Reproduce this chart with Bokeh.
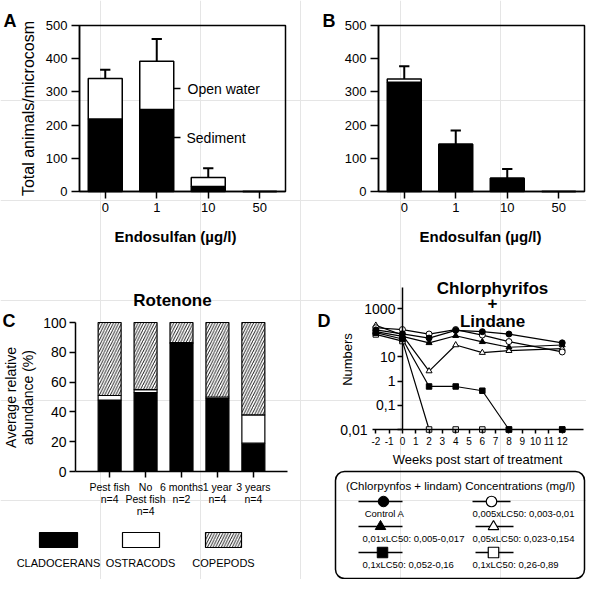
import math
from bokeh.plotting import figure
from bokeh.models import (Range1d, FixedTicker, Label, BoxAnnotation, LinearAxis,
                          LogAxis, LogScale)
from bokeh.embed import file_html
from bokeh.resources import INLINE

FONT = "Liberation Sans"

# ---------------- data ----------------
conc_labels = ["0", "1", "10", "50"]
A_sediment = [218, 247, 15, 0]
A_open_water = [122, 145, 27, 0]
A_sd = [27, 67, 28, 0]
B_sediment = [329, 142, 40, 0]
B_open_water = [10, 0, 0, 0]
B_sd = [38, 42, 28, 0]
AB_y_ticks = [0, 100, 200, 300, 400, 500]

C_groups = ["Pest fish\nn=4", "No\nPest fish\nn=4", "6 months\nn=2", "1 year\nn=4", "3 years\nn=4"]
C_cladocerans = [48, 53, 86, 49, 19]
C_ostracods = [3, 2, 0.5, 1, 19]
C_copepods = [49, 45, 13.5, 50, 62]
C_y_ticks = [0, 20, 40, 60, 80, 100]

D_weeks = [-2, 0, 2, 4, 6, 8, 12]
D_control_A = [130, 90, 60, 125, 110, 88, 38]
D_0005_lc50 = [160, 135, 88, 135, 80, 43, 16]
D_001_lc50 = [110, 70, 38, 75, 42, 25, 31]
D_005_lc50 = [200, 80, 2.6, 31, 15, 18, 22]
D_01_lc50_a = [100, 55, 0.6, 0.6, 0.4, 0.01, 0.01]
D_01_lc50_b = [85, 45, 0.01, 0.01, 0.01, 0.01, 0.01]
D_week_ticks = [-2, -1, 0, 1, 2, 3, 4, 5, 6, 7, 8, 9, 10, 11, 12]
D_week_labels = ["-2", "-1", "0", "1", "2", "3", "4", "5", "6", "7", "8", "9", "10", "11", "12"]
D_y_ticks = [0.01, 0.1, 1, 10, 1000]
D_y_tick_labels = ["0,01", "0,1", "1", "10", "1000"]

# ---------------- canvas ----------------
W, H = 586, 579
p = figure(width=W, height=H, x_range=Range1d(0, W), y_range=Range1d(H, 0),
           x_axis_location=None, y_axis_location=None, toolbar_location=None,
           output_backend="svg", min_border_left=0, min_border_right=0,
           min_border_top=0, min_border_bottom=0)
p.outline_line_color = None


def xr(v0, c0, v1, c1):
    k = (v1 - v0) / (c1 - c0)
    return Range1d(start=v0 - c0 * k, end=v0 + (W - c0) * k)


def yr(v0, c0, v1, c1, log=False):
    if log:
        v0, v1 = math.log10(v0), math.log10(v1)
    k = (v1 - v0) / (c1 - c0)
    s, e = v0 + (H - c0) * k, v0 - c0 * k
    if log:
        s, e = 10 ** s, 10 ** e
    return Range1d(start=s, end=e)


p.extra_x_ranges = {
    "Ax": xr(-0.5, 79, 3.5, 285),
    "Bx": xr(-0.5, 378, 3.5, 584),
    "Cx": xr(-0.95, 75, 4.95, 287),
    "Dx": xr(-2.25, 372, 13.6, 583),
}
p.extra_y_ranges = {
    "Ay": yr(0, 191, 500, 25),
    "By": yr(0, 191, 500, 25),
    "Cy": yr(0, 471, 100, 322),
    "Dy": yr(0.01, 429, 1000, 308, log=True),
}
p.extra_y_scales = {"Dy": LogScale()}
D_TOP = 10 ** (3 + 21 / 24.2)


def add_axis(side, xn, yn, loc, bounds, ticks, labels, tick_out, standoff, size, log=False):
    cls = LogAxis if log else LinearAxis
    ax = cls(x_range_name=xn, y_range_name=yn, fixed_location=loc, bounds=bounds,
             ticker=FixedTicker(ticks=ticks))
    if labels is not None:
        ax.major_label_overrides = dict(zip(ticks, labels))
    ax.axis_line_width = 1.5
    ax.axis_line_color = "black"
    ax.major_tick_line_width = 1.5
    ax.major_tick_line_color = "black"
    ax.major_tick_in = 0
    ax.major_tick_out = tick_out
    ax.minor_tick_line_color = None
    ax.major_label_standoff = standoff
    ax.major_label_text_font = FONT
    ax.major_label_text_font_size = size
    ax.major_label_text_color = "black"
    p.add_layout(ax, side)
    return ax


def lab(x, y, text, size, bold=False, align="center", baseline="middle", angle=0.0):
    p.add_layout(Label(x=x, y=y, text=text, text_font=FONT, text_font_size=size,
                       text_font_style=("bold" if bold else "normal"),
                       text_align=align, text_baseline=baseline, angle=angle,
                       text_color="black"))


# ---------------- panels A and B ----------------
def stacked_bar_panel(xn, yn, sediment, open_water, sd):
    kw = dict(x_range_name=xn, y_range_name=yn)
    xs = list(range(len(sediment)))
    totals = [s + o for s, o in zip(sediment, open_water)]
    p.vbar(x=xs, bottom=0, top=sediment, width=0.66, fill_color="black",
           line_color="black", line_width=1.5, **kw)
    p.vbar(x=xs, bottom=sediment, top=totals, width=0.66, fill_color="white",
           line_color="black", line_width=1.5, **kw)
    ex = [x for x, e in zip(xs, sd) if e > 0]
    et = [t for t, e in zip(totals, sd) if e > 0]
    ee = [t + e for t, e in zip(totals, sd) if e > 0]
    p.segment(x0=ex, y0=et, x1=ex, y1=ee, line_color="black", line_width=2, **kw)
    p.segment(x0=[x - 0.1 for x in ex], y0=ee, x1=[x + 0.1 for x in ex], y1=ee,
              line_color="black", line_width=2, **kw)
    p.quad(left=[-0.5], right=[3.5], bottom=[0], top=[AB_y_ticks[-1]], fill_color=None,
           line_color="black", line_width=1.5, **kw)
    add_axis("below", xn, yn, 0, (-0.5, 3.5), xs, conc_labels, 7, 4, "13px")
    add_axis("left", xn, yn, -0.5, (0, AB_y_ticks[-1]), AB_y_ticks, None, 8, 4, "13px")


stacked_bar_panel("Ax", "Ay", A_sediment, A_open_water, A_sd)
stacked_bar_panel("Bx", "By", B_sediment, B_open_water, B_sd)

lab(3, 20, "A", "18px", bold=True, align="left", baseline="alphabetic")
lab(28, 108, "Total animals/microcosm", "16px", angle=math.pi / 2)
lab(175, 236, "Endosulfan (µg/l)", "15px", bold=True)
lab(187, 88, "Open water", "14px", align="left")
lab(186, 137, "Sediment", "14px", align="left")
p.segment(x0=[173, 173], y0=[88, 137], x1=[180, 180], y1=[88, 137],
          line_color="black", line_width=1.5)

lab(322, 20, "B", "18px", bold=True, align="left", baseline="alphabetic")
lab(480, 236, "Endosulfan (µg/l)", "15px", bold=True)

# ---------------- panel C ----------------
ckw = dict(x_range_name="Cx", y_range_name="Cy")
cx = list(range(len(C_groups)))
c_top1 = [a + b for a, b in zip(C_cladocerans, C_ostracods)]
c_top2 = [a + b for a, b in zip(c_top1, C_copepods)]
HATCH = dict(hatch_pattern="/", hatch_color="black", hatch_scale=5.5, hatch_weight=0.9)
p.vbar(x=cx, bottom=0, top=C_cladocerans, width=0.64, fill_color="black",
       line_color="black", line_width=1.2, **ckw)
p.vbar(x=cx, bottom=C_cladocerans, top=c_top1, width=0.64, fill_color="white",
       line_color="black", line_width=1.2, **ckw)
p.vbar(x=cx, bottom=c_top1, top=c_top2, width=0.64, fill_color="white",
       line_color="black", line_width=1.2, **HATCH, **ckw)
cax = add_axis("below", "Cx", "Cy", 0, (-0.95, 4.95), cx, C_groups, 6, 3, "10.5px")
cax.major_label_text_line_height = 1.0
add_axis("left", "Cx", "Cy", -0.95, (0, 100), C_y_ticks, None, 6, 3, "14px")
lab(2, 320, "C", "18px", bold=True, align="left", baseline="alphabetic")
lab(172, 300, "Rotenone", "17px", bold=True, baseline="alphabetic")
lab(10, 397, "Average relative", "14px", angle=math.pi / 2)
lab(27, 397, "abundance (%)", "14px", angle=math.pi / 2)

# legend C
p.quad(left=[39], right=[77], top=[532], bottom=[547], fill_color="black",
       line_color="black", line_width=1.2)
p.quad(left=[122], right=[159], top=[532], bottom=[547], fill_color="white",
       line_color="black", line_width=1.2)
p.quad(left=[205], right=[241], top=[532], bottom=[547], fill_color="white",
       line_color="black", line_width=1.2, **HATCH)
lab(58, 562, "CLADOCERANS", "11px")
lab(140, 562, "OSTRACODS", "11px")
lab(223, 562, "COPEPODS", "11px")

# ---------------- panel D ----------------
dkw = dict(x_range_name="Dx", y_range_name="Dy")
series = [
    (D_01_lc50_b, "square", "white"),
    (D_01_lc50_a, "square", "black"),
    (D_005_lc50, "triangle", "white"),
    (D_001_lc50, "triangle", "black"),
    (D_0005_lc50, "circle", "white"),
    (D_control_A, "circle", "black"),
]
for ys, mk, fc in series:
    p.line(D_weeks, ys, line_color="black", line_width=1.2, **dkw)
add_axis("below", "Dx", "Dy", 0.01, (-2.25, 13.6), D_week_ticks, D_week_labels, 4, 3, "10px")
# the lowest y label sits left of the x-axis start in the original, so it is drawn apart
add_axis("left", "Dx", "Dy", 0, (0.01, D_TOP), D_y_ticks,
         [""] + D_y_tick_labels[1:], 5, 2, "14px", log=True)
lab(367, 429, D_y_tick_labels[0], "14px", align="right")
for ys, mk, fc in series:
    p.scatter(D_weeks, ys, marker=mk, size=(6 if mk != "square" else 5.5),
              fill_color=fc, line_color="black", line_width=1, **dkw)
lab(317, 320, "D", "18px", bold=True, align="left", baseline="alphabetic")
lab(492, 288, "Chlorphyrifos", "17px", bold=True, baseline="alphabetic")
lab(492, 302.5, "+", "17px", bold=True, baseline="alphabetic")
lab(492, 321, "Lindane", "17px", bold=True, baseline="alphabetic")
lab(346.5, 359, "Numbers", "13px", angle=math.pi / 2)
lab(477, 459, "Weeks post start of treatment", "13px")

# legend D
p.add_layout(BoxAnnotation(left=335, right=584, top=471, bottom=578, fill_color=None,
                           fill_alpha=0, line_color="black", line_alpha=1.0,
                           line_width=1.5, border_radius=9))
lab(460, 485, "(Chlorpynfos + lindam) Concentrations (mg/l)", "11.5px")
leg_rows = [
    (501, "circle", "Control A", "0,005xLC50: 0,003-0,01", 383, 491, 472),
    (526, "triangle", "0,01xLC50: 0,005-0,017", "0,05xLC50: 0,023-0,154", 380, 493, 475),
    (552, "square", "0,1xLC50: 0,052-0,16", "0,1xLC50: 0,26-0,89", 382, 493, 475),
]
for i, (yy, mk, t1, t2, mx1, mx2, lx2) in enumerate(leg_rows):
    p.segment(x0=[358, lx2], y0=[yy, yy], x1=[402, lx2 + 38], y1=[yy, yy],
              line_color="black", line_width=1.5)
    p.scatter([mx1], [yy], marker=mk, size=10.5, fill_color="black", line_color="black")
    p.scatter([mx2], [yy], marker=mk, size=10.5, fill_color="white", line_color="black",
              line_width=1.2)
    ty = yy + 12.2
    if i == 0:
        lab(384, ty, t1, "9.5px")
    else:
        lab(362, ty, t1, "9.5px", align="left")
    lab(472, ty, t2, "9.5px", align="left")

open("out.html", "w").write(file_html(p, INLINE))
